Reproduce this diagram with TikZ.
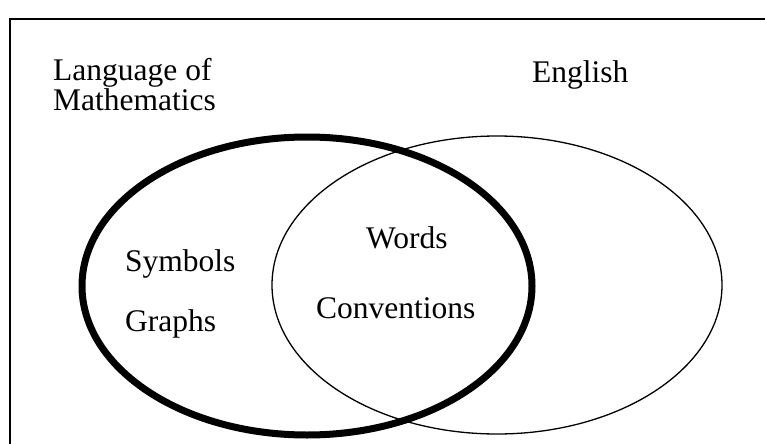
\documentclass[tikz,border=0pt]{standalone}
\usepackage{fontspec}
\setmainfont{Liberation Serif}
\usetikzlibrary{shapes.geometric}
\tikzset{
  lbl/.style={anchor=base west, inner sep=0pt, font=\fontsize{31.5}{36}\selectfont},
  setline/.style={draw, ellipse, inner sep=0pt, minimum width=450pt, minimum height=298pt},
}
\begin{document}
\begin{tikzpicture}[x=1pt,y=1pt]
\useasboundingbox (0,0) rectangle (765,-444);
% frame
\draw[line width=1.6pt] (10,-444) -- (10,-19) -- (765,-19);
% sets
\node[setline, line width=1.3pt] (english) at (497,-285) {};
\node[setline, line width=7pt] (math) at (307,-286) {};
% labels
\node[lbl] (lang1) at (53,-80) {Language of};
\node[lbl] (lang2) at (53,-110) {Mathematics};
\node[lbl] (eng) at (532,-82) {English};
\node[lbl] (sym) at (125,-271) {Symbols};
\node[lbl] (gra) at (125,-331) {Graphs};
\node[lbl] (wor) at (366,-248) {Words};
\node[lbl] (con) at (316,-318) {Conventions};
\end{tikzpicture}
\end{document}
